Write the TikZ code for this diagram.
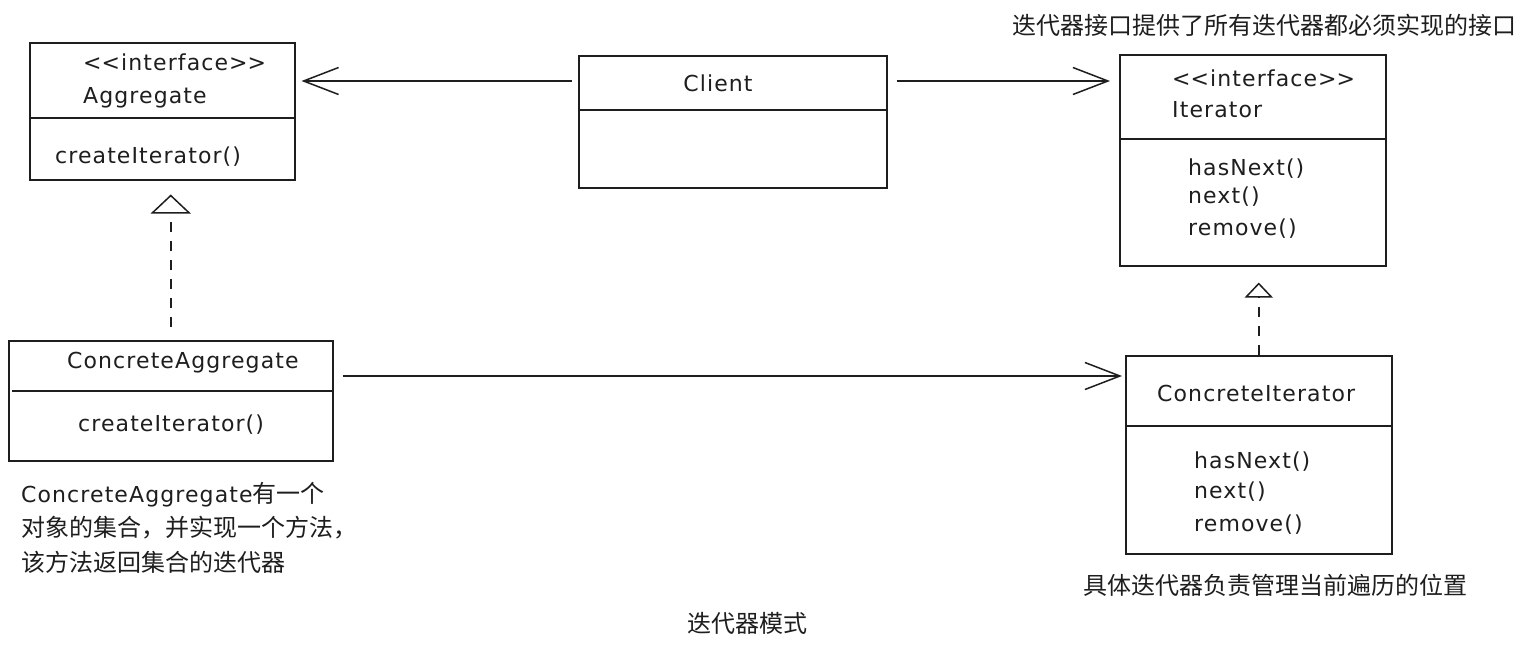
\documentclass[tikz,border=0pt]{standalone}
\usepackage{fontspec}
\setmainfont{DejaVu Sans}[LetterSpace=5]
\newfontfamily\cjk{Noto Sans CJK SC}
\usetikzlibrary{arrows.meta}
\definecolor{ink}{HTML}{1E1E1E}
\begin{document}
\begin{tikzpicture}[x=1pt,y=-1pt,
  umlbox/.style={draw=ink, line width=1.5pt, anchor=north west, inner sep=0pt},
  divider/.style={draw=ink, line width=1.5pt},
  lbl/.style={anchor=base west, inner sep=0pt, text=ink, font=\fontsize{22}{26}\selectfont},
  zh/.style={anchor=base west, inner sep=0pt, text=ink, font=\fontsize{24}{28}\selectfont\cjk},
  assoc/.style={draw=ink, line width=1.5pt, -{Straight Barb[length=35pt,width=27pt,line width=1.5pt]}},
  realize/.style={draw=ink, line width=1.5pt, dash pattern=on 10pt off 9pt},
]
\useasboundingbox[fill=white] (0,0) rectangle (1524,648);

% Aggregate
\node[umlbox, minimum width=265pt, minimum height=137pt] (agg) at (29,42) {};
\draw[divider] (agg.west |- 0,118) -- (agg.east |- 0,118);
\node[lbl] (aggst) at (83,70) {<\kern0pt<interface>\kern0pt>};
\node[lbl] (aggnm) at (83,103) {Aggregate};
\node[lbl] (aggm) at (55,163) {createIterator()};

% Client
\node[umlbox, minimum width=308pt, minimum height=132pt] (client) at (578,55) {};
\draw[divider] (client.west |- 0,110) -- (client.east |- 0,110);
\node[lbl, anchor=base] (clnm) at (718,91) {Client};

% Iterator
\node[umlbox, minimum width=266pt, minimum height=211pt] (iter) at (1119,54) {};
\draw[divider] (iter.west |- 0,139) -- (iter.east |- 0,139);
\node[lbl] (iterst) at (1172,86) {<\kern0pt<interface>\kern0pt>};
\node[lbl] (iternm) at (1172,117) {Iterator};
\node[lbl] (iterm1) at (1188,175) {hasNext()};
\node[lbl] (iterm2) at (1188,203) {next()};
\node[lbl] (iterm3) at (1188,235) {remove()};
\node[zh] (itercap) at (1012,34) {迭代器接口提供了所有迭代器都必须实现的接口};

% ConcreteAggregate
\node[umlbox, minimum width=324pt, minimum height=120pt] (cagg) at (8,340) {};
\draw[divider] ([xshift=4pt]cagg.west |- 0,391) -- (cagg.east |- 0,391);
\node[lbl] (caggnm) at (67,368) {ConcreteAggregate};
\node[lbl] (caggm) at (78,431) {createIterator()};
\node[lbl] (cap1) at (21,502) {ConcreteAggregate{\fontsize{24}{28}\selectfont\cjk 有一个}};
\node[zh] (cap2) at (21,536) {对象的集合，并实现一个方法，};
\node[zh] (cap3) at (21,571) {该方法返回集合的迭代器};

% ConcreteIterator
\node[umlbox, minimum width=266pt, minimum height=198pt] (citer) at (1125,355) {};
\draw[divider] (citer.west |- 0,426) -- (citer.east |- 0,426);
\node[lbl] (citernm) at (1157,401) {ConcreteIterator};
\node[lbl] (citerm1) at (1194,468) {hasNext()};
\node[lbl] (citerm2) at (1194,498) {next()};
\node[lbl] (citerm3) at (1194,531) {remove()};
\node[zh] (citercap) at (1083,594) {具体迭代器负责管理当前遍历的位置};

% title
\node[zh] (title) at (687,632) {迭代器模式};

% connectors
\coordinate (c1) at ([yshift=-26pt]client.north west);
\coordinate (c2) at ([yshift=-26pt]client.north east);
\coordinate (c3) at ([yshift=-36pt]cagg.north east);
\draw[assoc, shorten <=6pt, shorten >=6pt] (c1) -- (c1 -| agg.east);
\draw[assoc, shorten <=9pt, shorten >=9pt] (c2) -- (c2 -| iter.west);
\draw[assoc, shorten <=9pt, shorten >=3pt] (c3) -- (c3 -| citer.west);
\draw[realize, -{Triangle[open,fill=white,length=19pt,width=40pt,line width=1.5pt]}, shorten <=13pt, shorten >=14pt] (cagg.north) -- (cagg.north |- agg.south);
\draw[realize, -{Triangle[open,fill=white,length=15pt,width=28pt,line width=1.5pt]}, shorten <=0pt, shorten >=16pt] (citer.north) -- (citer.north |- iter.south);
\end{tikzpicture}
\end{document}
